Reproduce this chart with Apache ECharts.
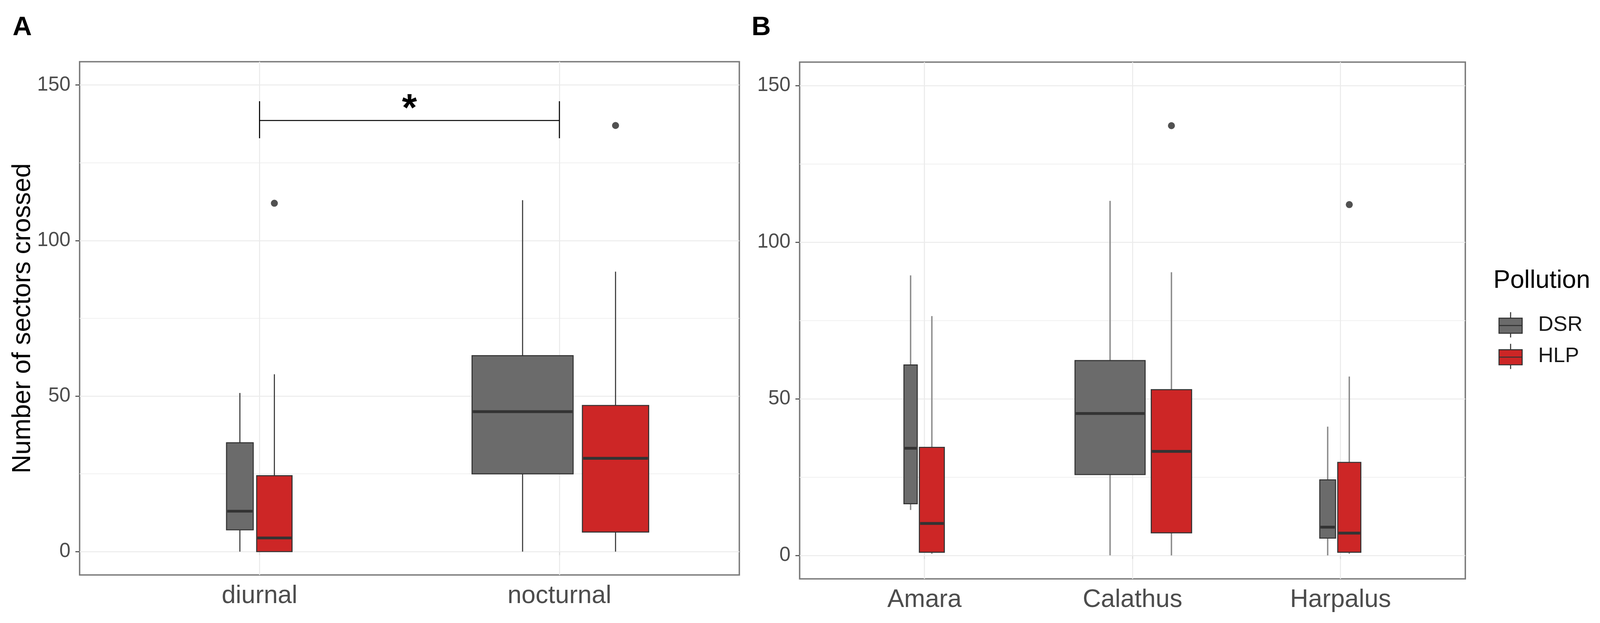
<!DOCTYPE html>
<html>
<head>
<meta charset="utf-8">
<script src="https://cdn.jsdelivr.net/npm/echarts@6/dist/echarts.min.js"></script>
<style>
html,body{margin:0;padding:0;background:#fff;overflow:hidden}
#chart{width:100vw;height:100vh}
</style>
</head>
<body>
<div id="chart"></div>
<script>
// ---- data ----
// box stats per category: [lower whisker, Q1, median, Q3, upper whisker]
var catsA = ['diurnal', 'nocturnal'];
var dsrA = [[0, 7, 13, 35, 51], [0, 25, 45, 63, 113]];
var hlpA = [[0, 0, 4.4, 24.4, 57], [0, 6.3, 30, 47, 90]];
var outHlpA = [[0, 112], [1, 137]];          // [category index, value]
var sigA = [1, 2, 138.6, 132.9, 144.8, 142]; // from, to, bar y, tick low, tick high, star y

var catsB = ['Amara', 'Calathus', 'Harpalus'];
var dsrB = [[14.5, 16.5, 34.2, 60.8, 89.4], [0, 25.8, 45.3, 62.2, 113.2], [0, 5.5, 9, 24.1, 41.1]];
var hlpB = [[0.5, 1, 10.2, 34.5, 76.4], [0, 7.2, 33.2, 52.9, 90.4], [0.5, 1, 7.1, 29.7, 57.1]];
var outHlpB = [[1, 137.2], [2, 112]];

var yTicks = [0, 50, 100, 150];
var yMinor = [25, 75, 125];

// ---- layout (varwidth box widths in category units, dodge2 padding) ----
var boxW = {
  A: { DSR: [0.089, 0.337], HLP: [0.118, 0.221] },
  B: { DSR: [0.064, 0.337, 0.076], HLP: [0.12, 0.194, 0.111] }
};
var PAD = 0.9;
var FONT = '"Liberation Sans", Arial, sans-serif';
var colDSR = '#6b6b6b', colHLP = '#cd2626', dark = '#333333';

var chart = echarts.init(document.getElementById('chart'));
// everything below was measured on a 4562 x 1595 canvas
var sx = chart.getWidth() / 4562, sy = chart.getHeight() / 1595;
var s = Math.min(sx, sy);
function X(v) { return v * sx; }
function Y(v) { return v * sy; }
function S(v) { return v * s; }

function boxCenter(panel, group, i) {
  var d = boxW[panel].DSR[i] / PAD, h = boxW[panel].HLP[i] / PAD, tot = d + h;
  return group === 'DSR' ? i + 1 - tot / 2 + d / 2 : i + 1 + tot / 2 - h / 2;
}

function boxRender(panel, group, fill, wColor, wWidth) {
  return function (params, api) {
    var i = api.value(0);
    var cx = boxCenter(panel, group, i);
    var hw = boxW[panel][group][i] / 2;
    var lo = api.coord([cx, api.value(1)]);
    var q1 = api.coord([cx, api.value(2)]);
    var md = api.coord([cx, api.value(3)]);
    var q3 = api.coord([cx, api.value(4)]);
    var hi = api.coord([cx, api.value(5)]);
    var xl = api.coord([cx - hw, 0])[0], xr = api.coord([cx + hw, 0])[0];
    var wl = { stroke: wColor, lineWidth: S(wWidth) };
    return {
      type: 'group',
      children: [
        { type: 'line', shape: { x1: lo[0], y1: lo[1], x2: q1[0], y2: q1[1] }, style: wl },
        { type: 'line', shape: { x1: q3[0], y1: q3[1], x2: hi[0], y2: hi[1] }, style: wl },
        { type: 'rect', shape: { x: xl, y: q3[1], width: xr - xl, height: q1[1] - q3[1] },
          style: { fill: fill, stroke: dark, lineWidth: S(3) } },
        { type: 'line', shape: { x1: xl + S(2), y1: md[1], x2: xr - S(2), y2: md[1] },
          style: { stroke: dark, lineWidth: S(8) } }
      ]
    };
  };
}

function rows(stats) {
  return stats.map(function (s, i) { return [i].concat(s); });
}

function gridLines(n) {
  var d = [];
  yTicks.forEach(function (v) { d.push({ yAxis: v, lineStyle: { color: '#ebebeb', width: S(3), type: 'solid' } }); });
  yMinor.forEach(function (v) { d.push({ yAxis: v, lineStyle: { color: '#f0f0f0', width: S(2), type: 'solid' } }); });
  for (var i = 1; i <= n; i++) d.push({ xAxis: i, lineStyle: { color: '#ebebeb', width: S(3), type: 'solid' } });
  return d;
}

function xAxisFor(gi, cats) {
  var vals = cats.map(function (c, i) { return i + 1; });
  return {
    gridIndex: gi, type: 'value', min: 0.4, max: cats.length + 0.6,
    axisLine: { show: false }, splitLine: { show: false },
    axisTick: { customValues: vals, length: S(10), lineStyle: { color: '#4d4d4d', width: S(3) } },
    axisLabel: {
      customValues: vals, margin: S(24), fontSize: S(72), color: '#4d4d4d', fontFamily: FONT,
      formatter: function (v) { return cats[Math.round(v) - 1]; }
    }
  };
}

function yAxisFor(gi, withName) {
  var ax = {
    gridIndex: gi, type: 'value', min: -7.5, max: 157.5,
    axisLine: { show: false }, splitLine: { show: false },
    axisTick: { customValues: yTicks, length: S(12), lineStyle: { color: '#4d4d4d', width: S(3) } },
    axisLabel: { customValues: yTicks, margin: S(26), fontSize: S(57), color: '#4d4d4d', fontFamily: FONT }
  };
  if (withName) {
    ax.name = 'Number of sectors crossed';
    ax.nameLocation = 'middle';
    ax.nameGap = S(125);
    ax.nameTextStyle = { fontSize: S(74), color: '#000', fontFamily: FONT };
  }
  return ax;
}

var boxIcon = 'path://M0,17L66,17L66,60L0,60ZM0,38L66,38M33,0L33,17M33,60L33,72';

var option = {
  animation: false,
  backgroundColor: '#fff',
  textStyle: { fontFamily: FONT },
  grid: [
    { left: X(227), top: Y(158), width: X(1881), height: Y(1314), show: true,
      borderColor: '#7a7a7a', borderWidth: S(4), backgroundColor: '#fff' },
    { left: X(2280), top: Y(159), width: X(1898), height: Y(1323), show: true,
      borderColor: '#7a7a7a', borderWidth: S(4), backgroundColor: '#fff' }
  ],
  xAxis: [xAxisFor(0, catsA), xAxisFor(1, catsB)],
  yAxis: [yAxisFor(0, true), yAxisFor(1, false)],
  legend: {
    data: [{ name: 'DSR', icon: boxIcon }, { name: 'HLP', icon: boxIcon }],
    orient: 'vertical', left: X(4267), top: Y(793),
    itemWidth: S(66), itemHeight: S(72), itemGap: S(15),
    itemStyle: { borderColor: dark, borderWidth: S(3) },
    textStyle: { fontSize: S(60), color: '#1a1a1a', fontFamily: FONT, padding: [0, 0, 0, S(40)] }
  },
  graphic: [
    { type: 'text', left: X(36), top: Y(37), style: { text: 'A', fontSize: S(76), fontWeight: 'bold', fill: '#000', fontFamily: FONT } },
    { type: 'text', left: X(2143), top: Y(37), style: { text: 'B', fontSize: S(76), fontWeight: 'bold', fill: '#000', fontFamily: FONT } },
    { type: 'text', left: X(4258), top: Y(687), style: { text: 'Pollution', fontSize: S(72), fill: '#000', fontFamily: FONT } }
  ],
  series: [
    { type: 'line', xAxisIndex: 0, yAxisIndex: 0, data: [], silent: true,
      markLine: { z: 1, silent: true, symbol: 'none', label: { show: false }, animation: false, data: gridLines(catsA.length) } },
    { type: 'line', xAxisIndex: 1, yAxisIndex: 1, data: [], silent: true,
      markLine: { z: 1, silent: true, symbol: 'none', label: { show: false }, animation: false, data: gridLines(catsB.length) } },

    { name: 'DSR', type: 'custom', xAxisIndex: 0, yAxisIndex: 0, z: 3,
      itemStyle: { color: colDSR, borderColor: dark },
      renderItem: boxRender('A', 'DSR', colDSR, dark, 3), data: rows(dsrA) },
    { name: 'HLP', type: 'custom', xAxisIndex: 0, yAxisIndex: 0, z: 3,
      itemStyle: { color: colHLP, borderColor: dark },
      renderItem: boxRender('A', 'HLP', colHLP, dark, 3), data: rows(hlpA) },
    { name: 'DSR', type: 'custom', xAxisIndex: 1, yAxisIndex: 1, z: 3,
      itemStyle: { color: colDSR, borderColor: dark },
      renderItem: boxRender('B', 'DSR', colDSR, '#8c8c8c', 4), data: rows(dsrB) },
    { name: 'HLP', type: 'custom', xAxisIndex: 1, yAxisIndex: 1, z: 3,
      itemStyle: { color: colHLP, borderColor: dark },
      renderItem: boxRender('B', 'HLP', colHLP, '#8c8c8c', 4), data: rows(hlpB) },

    { name: 'outA', type: 'scatter', xAxisIndex: 0, yAxisIndex: 0, z: 4, symbolSize: S(20),
      itemStyle: { color: '#262626' },
      data: outHlpA.map(function (o) { return [boxCenter('A', 'HLP', o[0]), o[1]]; }) },
    { name: 'outB', type: 'scatter', xAxisIndex: 1, yAxisIndex: 1, z: 4, symbolSize: S(20),
      itemStyle: { color: '#262626' },
      data: outHlpB.map(function (o) { return [boxCenter('B', 'HLP', o[0]), o[1]]; }) },

    { name: 'sig', type: 'custom', xAxisIndex: 0, yAxisIndex: 0, z: 4, silent: true,
      data: [sigA],
      renderItem: function (params, api) {
        var a = api.coord([api.value(0), api.value(2)]);
        var b = api.coord([api.value(1), api.value(2)]);
        var lo = api.coord([api.value(0), api.value(3)])[1];
        var hi = api.coord([api.value(0), api.value(4)])[1];
        var st = api.coord([(api.value(0) + api.value(1)) / 2, api.value(5)]);
        var ls = { stroke: '#000', lineWidth: S(3) };
        return {
          type: 'group',
          children: [
            { type: 'line', shape: { x1: a[0], y1: a[1], x2: b[0], y2: b[1] }, style: ls },
            { type: 'line', shape: { x1: a[0], y1: hi, x2: a[0], y2: lo }, style: ls },
            { type: 'line', shape: { x1: b[0], y1: hi, x2: b[0], y2: lo }, style: ls },
            { type: 'text', x: st[0], y: st[1],
              style: { text: '*', fontSize: S(110), fontWeight: 'bold', fill: '#000', fontFamily: FONT,
                       align: 'center', verticalAlign: 'middle' } }
          ]
        };
      }
    }
  ]
};

chart.setOption(option);
</script>
</body>
</html>
